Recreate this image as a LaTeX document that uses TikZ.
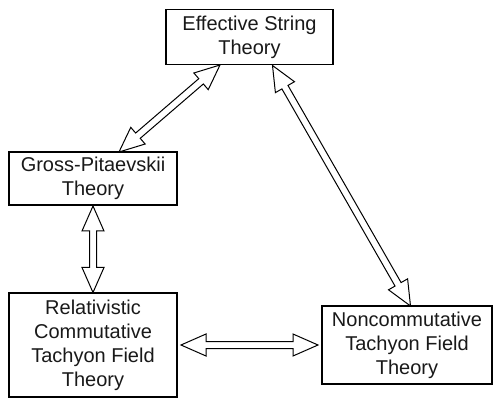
\documentclass[tikz,border=0pt]{standalone}
\usepackage{fontspec}
\setmainfont{Liberation Sans}
\usetikzlibrary{calc}
\tikzset{
  box/.style={draw=black, line width=1.1pt, fill=white, align=center, inner sep=0pt,
    font=\fontsize{20}{24}\selectfont, text=black!90},
  arr/.style={draw=black, line width=1pt, fill=white, line join=miter},
}
\newcommand{\dblarr}[2]{%
  \draw[arr] (#1)
    -- ($(#1)!25pt!(#2)!11pt!90:(#2)$)
    -- ($(#1)!25pt!(#2)!3.5pt!90:(#2)$)
    -- ($(#2)!25pt!(#1)!3.5pt!-90:(#1)$)
    -- ($(#2)!25pt!(#1)!11pt!-90:(#1)$)
    -- (#2)
    -- ($(#2)!25pt!(#1)!11pt!90:(#1)$)
    -- ($(#2)!25pt!(#1)!3.5pt!90:(#1)$)
    -- ($(#1)!25pt!(#2)!3.5pt!-90:(#2)$)
    -- ($(#1)!25pt!(#2)!11pt!-90:(#2)$)
    -- cycle;%
}
\begin{document}
\begin{tikzpicture}[x=1pt, y=-1pt]
  \useasboundingbox (0,0) rectangle (498,403);
  \node[box, minimum width=167pt, minimum height=55pt] (est) at (249.5,37) {Effective String\\Theory};
  \node[box, minimum width=168pt, minimum height=53pt] (gp) at (93,178.5) {Gross-Pitaevskii\\Theory};
  \node[box, minimum width=168pt, minimum height=104pt] (rel) at (93,345) {Relativistic\\Commutative\\Tachyon Field\\Theory};
  \node[box, minimum width=170pt, minimum height=78pt] (nc) at (407,345) {Noncommutative\\Tachyon Field\\Theory};
  \coordinate (e1) at (220,65);
  \coordinate (g1) at (119,152);
  \coordinate (e2) at (272.5,65.5);
  \coordinate (n1) at (410.5,306);
  \coordinate (g2) at (93,206);
  \coordinate (r1) at (93,292.5);
  \coordinate (r2) at (181,345);
  \coordinate (n2) at (318,345);
  \dblarr{g1}{e1}
  \dblarr{e2}{n1}
  \dblarr{g2}{r1}
  \dblarr{r2}{n2}
\end{tikzpicture}
\end{document}
